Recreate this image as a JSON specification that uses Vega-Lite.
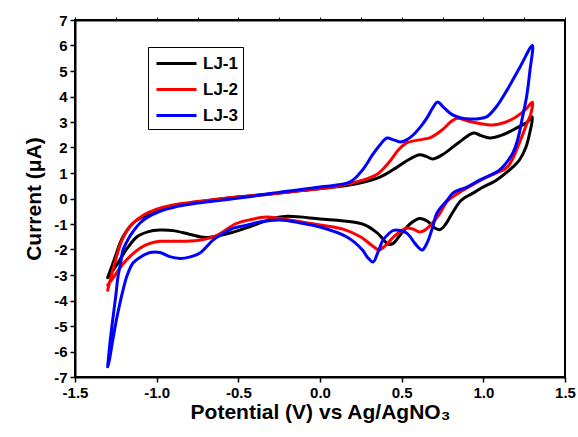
{
  "$schema": "https://vega.github.io/schema/vega-lite/v6.json",
  "width": 490,
  "height": 357,
  "autosize": "none",
  "padding": {"left": 75, "top": 20, "right": 13, "bottom": 60},
  "background": "white",
  "config": {
    "font": "Liberation Sans",
    "view": {"stroke": "black", "strokeWidth": 2},
    "axis": {
      "grid": false,
      "domainColor": "black",
      "domainWidth": 2,
      "tickColor": "black",
      "tickWidth": 1.5,
      "tickSize": 5,
      "labelFlush": false,
      "labelFont": "Liberation Sans",
      "labelFontSize": 15,
      "labelFontWeight": "bold",
      "labelColor": "black",
      "titleFont": "Liberation Sans",
      "titleFontSize": 21,
      "titleFontWeight": "bold",
      "titleColor": "black"
    },
    "legend": {
      "orient": "none",
      "legendX": 73,
      "legendY": 27,
      "strokeColor": "black",
      "strokeWidth": 1,
      "fillColor": "white",
      "padding": 5,
      "symbolType": "M-2,0H2",
      "symbolSize": 400,
      "symbolOffset": 12,
      "symbolStrokeWidth": 3,
      "labelFont": "Liberation Sans",
      "labelFontSize": 17,
      "labelFontWeight": "bold",
      "labelColor": "black",
      "labelOffset": 15,
      "rowPadding": 6,
      "title": null
    }
  },
  "data": {
    "values": [
      {"s":"LJ-1","o":1,"v":-1.30,"i":-3.10},
      {"s":"LJ-1","o":2,"v":-1.26,"i":-2.40},
      {"s":"LJ-1","o":3,"v":-1.21,"i":-1.55},
      {"s":"LJ-1","o":4,"v":-1.15,"i":-1.00},
      {"s":"LJ-1","o":5,"v":-1.08,"i":-0.70},
      {"s":"LJ-1","o":6,"v":-1.00,"i":-0.48},
      {"s":"LJ-1","o":7,"v":-0.90,"i":-0.30},
      {"s":"LJ-1","o":8,"v":-0.75,"i":-0.14},
      {"s":"LJ-1","o":9,"v":-0.55,"i":0.03},
      {"s":"LJ-1","o":10,"v":-0.30,"i":0.18},
      {"s":"LJ-1","o":11,"v":-0.10,"i":0.32},
      {"s":"LJ-1","o":12,"v":0.10,"i":0.46},
      {"s":"LJ-1","o":13,"v":0.25,"i":0.62},
      {"s":"LJ-1","o":14,"v":0.37,"i":0.85},
      {"s":"LJ-1","o":15,"v":0.47,"i":1.22},
      {"s":"LJ-1","o":16,"v":0.55,"i":1.55},
      {"s":"LJ-1","o":17,"v":0.61,"i":1.72},
      {"s":"LJ-1","o":18,"v":0.65,"i":1.65},
      {"s":"LJ-1","o":19,"v":0.69,"i":1.55},
      {"s":"LJ-1","o":20,"v":0.75,"i":1.72},
      {"s":"LJ-1","o":21,"v":0.85,"i":2.20},
      {"s":"LJ-1","o":22,"v":0.94,"i":2.57},
      {"s":"LJ-1","o":23,"v":0.98,"i":2.48},
      {"s":"LJ-1","o":24,"v":1.04,"i":2.37},
      {"s":"LJ-1","o":25,"v":1.12,"i":2.50},
      {"s":"LJ-1","o":26,"v":1.20,"i":2.75},
      {"s":"LJ-1","o":27,"v":1.27,"i":3.00},
      {"s":"LJ-1","o":28,"v":1.30,"i":3.20},
      {"s":"LJ-1","o":29,"v":1.285,"i":2.60},
      {"s":"LJ-1","o":30,"v":1.26,"i":2.00},
      {"s":"LJ-1","o":31,"v":1.22,"i":1.50},
      {"s":"LJ-1","o":32,"v":1.18,"i":1.23},
      {"s":"LJ-1","o":33,"v":1.08,"i":0.72},
      {"s":"LJ-1","o":34,"v":0.99,"i":0.42},
      {"s":"LJ-1","o":35,"v":0.94,"i":0.22},
      {"s":"LJ-1","o":36,"v":0.89,"i":0.05},
      {"s":"LJ-1","o":37,"v":0.86,"i":-0.10},
      {"s":"LJ-1","o":38,"v":0.81,"i":-0.57},
      {"s":"LJ-1","o":39,"v":0.77,"i":-1.00},
      {"s":"LJ-1","o":40,"v":0.735,"i":-1.22},
      {"s":"LJ-1","o":41,"v":0.70,"i":-1.15},
      {"s":"LJ-1","o":42,"v":0.66,"i":-0.90},
      {"s":"LJ-1","o":43,"v":0.61,"i":-0.78},
      {"s":"LJ-1","o":44,"v":0.56,"i":-0.95},
      {"s":"LJ-1","o":45,"v":0.50,"i":-1.35},
      {"s":"LJ-1","o":46,"v":0.45,"i":-1.75},
      {"s":"LJ-1","o":47,"v":0.42,"i":-1.80},
      {"s":"LJ-1","o":48,"v":0.38,"i":-1.55},
      {"s":"LJ-1","o":49,"v":0.35,"i":-1.35},
      {"s":"LJ-1","o":50,"v":0.28,"i":-1.05},
      {"s":"LJ-1","o":51,"v":0.20,"i":-0.92},
      {"s":"LJ-1","o":52,"v":0.00,"i":-0.80},
      {"s":"LJ-1","o":53,"v":-0.20,"i":-0.70},
      {"s":"LJ-1","o":54,"v":-0.29,"i":-0.78},
      {"s":"LJ-1","o":55,"v":-0.35,"i":-0.92},
      {"s":"LJ-1","o":56,"v":-0.45,"i":-1.15},
      {"s":"LJ-1","o":57,"v":-0.52,"i":-1.30},
      {"s":"LJ-1","o":58,"v":-0.60,"i":-1.43},
      {"s":"LJ-1","o":59,"v":-0.70,"i":-1.53},
      {"s":"LJ-1","o":60,"v":-0.80,"i":-1.40},
      {"s":"LJ-1","o":61,"v":-0.90,"i":-1.26},
      {"s":"LJ-1","o":62,"v":-0.98,"i":-1.24},
      {"s":"LJ-1","o":63,"v":-1.05,"i":-1.30},
      {"s":"LJ-1","o":64,"v":-1.12,"i":-1.50},
      {"s":"LJ-1","o":65,"v":-1.18,"i":-1.95},
      {"s":"LJ-1","o":66,"v":-1.23,"i":-2.45},
      {"s":"LJ-1","o":67,"v":-1.27,"i":-2.85},
      {"s":"LJ-1","o":68,"v":-1.30,"i":-3.10},

      {"s":"LJ-2","o":1,"v":-1.30,"i":-3.60},
      {"s":"LJ-2","o":2,"v":-1.26,"i":-2.60},
      {"s":"LJ-2","o":3,"v":-1.21,"i":-1.60},
      {"s":"LJ-2","o":4,"v":-1.15,"i":-1.00},
      {"s":"LJ-2","o":5,"v":-1.08,"i":-0.65},
      {"s":"LJ-2","o":6,"v":-1.00,"i":-0.42},
      {"s":"LJ-2","o":7,"v":-0.90,"i":-0.25},
      {"s":"LJ-2","o":8,"v":-0.75,"i":-0.12},
      {"s":"LJ-2","o":9,"v":-0.55,"i":0.03},
      {"s":"LJ-2","o":10,"v":-0.30,"i":0.18},
      {"s":"LJ-2","o":11,"v":-0.10,"i":0.32},
      {"s":"LJ-2","o":12,"v":0.10,"i":0.47},
      {"s":"LJ-2","o":13,"v":0.25,"i":0.70},
      {"s":"LJ-2","o":14,"v":0.35,"i":0.95},
      {"s":"LJ-2","o":15,"v":0.42,"i":1.40},
      {"s":"LJ-2","o":16,"v":0.48,"i":1.90},
      {"s":"LJ-2","o":17,"v":0.53,"i":2.18},
      {"s":"LJ-2","o":18,"v":0.61,"i":2.30},
      {"s":"LJ-2","o":19,"v":0.68,"i":2.40},
      {"s":"LJ-2","o":20,"v":0.75,"i":2.70},
      {"s":"LJ-2","o":21,"v":0.80,"i":3.00},
      {"s":"LJ-2","o":22,"v":0.84,"i":3.15},
      {"s":"LJ-2","o":23,"v":0.90,"i":3.05},
      {"s":"LJ-2","o":24,"v":0.97,"i":2.95},
      {"s":"LJ-2","o":25,"v":1.06,"i":2.88},
      {"s":"LJ-2","o":26,"v":1.13,"i":2.98},
      {"s":"LJ-2","o":27,"v":1.20,"i":3.20},
      {"s":"LJ-2","o":28,"v":1.26,"i":3.50},
      {"s":"LJ-2","o":29,"v":1.30,"i":3.78},
      {"s":"LJ-2","o":30,"v":1.29,"i":3.30},
      {"s":"LJ-2","o":31,"v":1.27,"i":3.00},
      {"s":"LJ-2","o":32,"v":1.22,"i":2.17},
      {"s":"LJ-2","o":33,"v":1.15,"i":1.25},
      {"s":"LJ-2","o":34,"v":1.08,"i":1.00},
      {"s":"LJ-2","o":35,"v":1.02,"i":0.84},
      {"s":"LJ-2","o":36,"v":0.90,"i":0.41},
      {"s":"LJ-2","o":37,"v":0.82,"i":0.10},
      {"s":"LJ-2","o":38,"v":0.78,"i":-0.10},
      {"s":"LJ-2","o":39,"v":0.735,"i":-0.57},
      {"s":"LJ-2","o":40,"v":0.69,"i":-0.95},
      {"s":"LJ-2","o":41,"v":0.64,"i":-1.25},
      {"s":"LJ-2","o":42,"v":0.61,"i":-1.31},
      {"s":"LJ-2","o":43,"v":0.57,"i":-1.20},
      {"s":"LJ-2","o":44,"v":0.53,"i":-1.16},
      {"s":"LJ-2","o":45,"v":0.49,"i":-1.30},
      {"s":"LJ-2","o":46,"v":0.45,"i":-1.51},
      {"s":"LJ-2","o":47,"v":0.40,"i":-1.85},
      {"s":"LJ-2","o":48,"v":0.36,"i":-2.02},
      {"s":"LJ-2","o":49,"v":0.32,"i":-1.85},
      {"s":"LJ-2","o":50,"v":0.25,"i":-1.51},
      {"s":"LJ-2","o":51,"v":0.15,"i":-1.22},
      {"s":"LJ-2","o":52,"v":0.00,"i":-1.04},
      {"s":"LJ-2","o":53,"v":-0.245,"i":-0.78},
      {"s":"LJ-2","o":54,"v":-0.33,"i":-0.73},
      {"s":"LJ-2","o":55,"v":-0.42,"i":-0.82},
      {"s":"LJ-2","o":56,"v":-0.52,"i":-1.00},
      {"s":"LJ-2","o":57,"v":-0.63,"i":-1.45},
      {"s":"LJ-2","o":58,"v":-0.75,"i":-1.65},
      {"s":"LJ-2","o":59,"v":-0.90,"i":-1.68},
      {"s":"LJ-2","o":60,"v":-0.98,"i":-1.68},
      {"s":"LJ-2","o":61,"v":-1.05,"i":-1.78},
      {"s":"LJ-2","o":62,"v":-1.10,"i":-1.94},
      {"s":"LJ-2","o":63,"v":-1.16,"i":-2.25},
      {"s":"LJ-2","o":64,"v":-1.21,"i":-2.60},
      {"s":"LJ-2","o":65,"v":-1.26,"i":-3.05},
      {"s":"LJ-2","o":66,"v":-1.30,"i":-3.40},

      {"s":"LJ-3","o":1,"v":-1.30,"i":-6.60},
      {"s":"LJ-3","o":2,"v":-1.285,"i":-5.60},
      {"s":"LJ-3","o":3,"v":-1.267,"i":-4.65},
      {"s":"LJ-3","o":4,"v":-1.25,"i":-3.80},
      {"s":"LJ-3","o":5,"v":-1.237,"i":-3.08},
      {"s":"LJ-3","o":6,"v":-1.22,"i":-2.50},
      {"s":"LJ-3","o":7,"v":-1.206,"i":-2.02},
      {"s":"LJ-3","o":8,"v":-1.17,"i":-1.55},
      {"s":"LJ-3","o":9,"v":-1.145,"i":-1.30},
      {"s":"LJ-3","o":10,"v":-1.10,"i":-0.95},
      {"s":"LJ-3","o":11,"v":-1.06,"i":-0.75},
      {"s":"LJ-3","o":12,"v":-0.98,"i":-0.50},
      {"s":"LJ-3","o":13,"v":-0.90,"i":-0.35},
      {"s":"LJ-3","o":14,"v":-0.75,"i":-0.18},
      {"s":"LJ-3","o":15,"v":-0.594,"i":-0.06},
      {"s":"LJ-3","o":16,"v":-0.40,"i":0.10},
      {"s":"LJ-3","o":17,"v":-0.245,"i":0.25},
      {"s":"LJ-3","o":18,"v":0.00,"i":0.45},
      {"s":"LJ-3","o":19,"v":0.184,"i":0.65},
      {"s":"LJ-3","o":20,"v":0.26,"i":1.12},
      {"s":"LJ-3","o":21,"v":0.32,"i":1.70},
      {"s":"LJ-3","o":22,"v":0.367,"i":2.10},
      {"s":"LJ-3","o":23,"v":0.41,"i":2.37},
      {"s":"LJ-3","o":24,"v":0.45,"i":2.30},
      {"s":"LJ-3","o":25,"v":0.49,"i":2.22},
      {"s":"LJ-3","o":26,"v":0.53,"i":2.30},
      {"s":"LJ-3","o":27,"v":0.57,"i":2.49},
      {"s":"LJ-3","o":28,"v":0.62,"i":2.85},
      {"s":"LJ-3","o":29,"v":0.655,"i":3.16},
      {"s":"LJ-3","o":30,"v":0.69,"i":3.55},
      {"s":"LJ-3","o":31,"v":0.72,"i":3.78},
      {"s":"LJ-3","o":32,"v":0.76,"i":3.55},
      {"s":"LJ-3","o":33,"v":0.815,"i":3.27},
      {"s":"LJ-3","o":34,"v":0.87,"i":3.15},
      {"s":"LJ-3","o":35,"v":0.918,"i":3.12},
      {"s":"LJ-3","o":36,"v":0.97,"i":3.13},
      {"s":"LJ-3","o":37,"v":1.02,"i":3.20},
      {"s":"LJ-3","o":38,"v":1.08,"i":3.60},
      {"s":"LJ-3","o":39,"v":1.145,"i":4.25},
      {"s":"LJ-3","o":40,"v":1.225,"i":5.16},
      {"s":"LJ-3","o":41,"v":1.30,"i":6.00},
      {"s":"LJ-3","o":42,"v":1.285,"i":5.00},
      {"s":"LJ-3","o":43,"v":1.265,"i":4.00},
      {"s":"LJ-3","o":44,"v":1.24,"i":3.20},
      {"s":"LJ-3","o":45,"v":1.21,"i":2.30},
      {"s":"LJ-3","o":46,"v":1.18,"i":1.78},
      {"s":"LJ-3","o":47,"v":1.10,"i":1.12},
      {"s":"LJ-3","o":48,"v":0.98,"i":0.73},
      {"s":"LJ-3","o":49,"v":0.90,"i":0.45},
      {"s":"LJ-3","o":50,"v":0.815,"i":0.22},
      {"s":"LJ-3","o":51,"v":0.78,"i":-0.06},
      {"s":"LJ-3","o":52,"v":0.716,"i":-0.57},
      {"s":"LJ-3","o":53,"v":0.69,"i":-1.12},
      {"s":"LJ-3","o":54,"v":0.655,"i":-1.75},
      {"s":"LJ-3","o":55,"v":0.625,"i":-2.02},
      {"s":"LJ-3","o":56,"v":0.58,"i":-1.75},
      {"s":"LJ-3","o":57,"v":0.53,"i":-1.35},
      {"s":"LJ-3","o":58,"v":0.45,"i":-1.25},
      {"s":"LJ-3","o":59,"v":0.41,"i":-1.45},
      {"s":"LJ-3","o":60,"v":0.386,"i":-1.63},
      {"s":"LJ-3","o":61,"v":0.355,"i":-2.10},
      {"s":"LJ-3","o":62,"v":0.325,"i":-2.49},
      {"s":"LJ-3","o":63,"v":0.29,"i":-2.30},
      {"s":"LJ-3","o":64,"v":0.26,"i":-2.02},
      {"s":"LJ-3","o":65,"v":0.165,"i":-1.51},
      {"s":"LJ-3","o":66,"v":0.00,"i":-1.12},
      {"s":"LJ-3","o":67,"v":-0.12,"i":-0.96},
      {"s":"LJ-3","o":68,"v":-0.245,"i":-0.84},
      {"s":"LJ-3","o":69,"v":-0.37,"i":-0.92},
      {"s":"LJ-3","o":70,"v":-0.45,"i":-1.05},
      {"s":"LJ-3","o":71,"v":-0.53,"i":-1.16},
      {"s":"LJ-3","o":72,"v":-0.60,"i":-1.40},
      {"s":"LJ-3","o":73,"v":-0.655,"i":-1.63},
      {"s":"LJ-3","o":74,"v":-0.735,"i":-2.14},
      {"s":"LJ-3","o":75,"v":-0.80,"i":-2.30},
      {"s":"LJ-3","o":76,"v":-0.857,"i":-2.35},
      {"s":"LJ-3","o":77,"v":-0.92,"i":-2.28},
      {"s":"LJ-3","o":78,"v":-0.98,"i":-2.12},
      {"s":"LJ-3","o":79,"v":-1.04,"i":-2.12},
      {"s":"LJ-3","o":80,"v":-1.10,"i":-2.30},
      {"s":"LJ-3","o":81,"v":-1.145,"i":-2.53},
      {"s":"LJ-3","o":82,"v":-1.18,"i":-3.00},
      {"s":"LJ-3","o":83,"v":-1.206,"i":-3.59},
      {"s":"LJ-3","o":84,"v":-1.243,"i":-4.65},
      {"s":"LJ-3","o":85,"v":-1.27,"i":-5.60},
      {"s":"LJ-3","o":86,"v":-1.29,"i":-6.35},
      {"s":"LJ-3","o":87,"v":-1.30,"i":-6.60}
    ]
  },
  "layer": [
    {
      "mark": {"type": "line", "strokeWidth": 3, "interpolate": "catmull-rom", "strokeJoin": "round", "strokeCap": "round"},
      "encoding": {
        "x": {
          "field": "v", "type": "quantitative",
          "scale": {"domain": [-1.5, 1.5], "nice": false, "zero": false},
          "axis": {
            "orient": "bottom",
            "values": [-1.5, -1, -0.5, 0, 0.5, 1, 1.5],
            "format": ".1f",
            "labelExpr": "replace(datum.label, '−', '-')",
            "labelPadding": 3,
            "title": "Potential (V) vs Ag/AgNO₃",
            "titlePadding": 1
          }
        },
        "y": {
          "field": "i", "type": "quantitative",
          "scale": {"domain": [-7, 7], "nice": false, "zero": false},
          "axis": {
            "values": [-7, -6, -5, -4, -3, -2, -1, 0, 1, 2, 3, 4, 5, 6, 7],
            "labelExpr": "replace(datum.label, '−', '-')",
            "labelPadding": 3,
            "title": "Current (μA)",
            "titlePadding": 9
          }
        },
        "order": {"field": "o", "type": "quantitative"},
        "color": {
          "field": "s", "type": "nominal",
          "scale": {"domain": ["LJ-1", "LJ-2", "LJ-3"], "range": ["black", "#ff0000", "#0000ff"]}
        }
      }
    },
    {
      "mark": {"type": "point", "opacity": 0},
      "encoding": {
        "x": {
          "field": "v", "type": "quantitative",
          "axis": {
            "orient": "top",
            "values": [-1.5, -1.25, -1, -0.75, -0.5, -0.25, 0, 0.25, 0.5, 0.75, 1, 1.25, 1.5],
            "labels": false,
            "tickSize": 3,
            "tickWidth": 1,
            "title": null
          }
        }
      }
    }
  ],
  "resolve": {"axis": {"x": "independent"}}
}
